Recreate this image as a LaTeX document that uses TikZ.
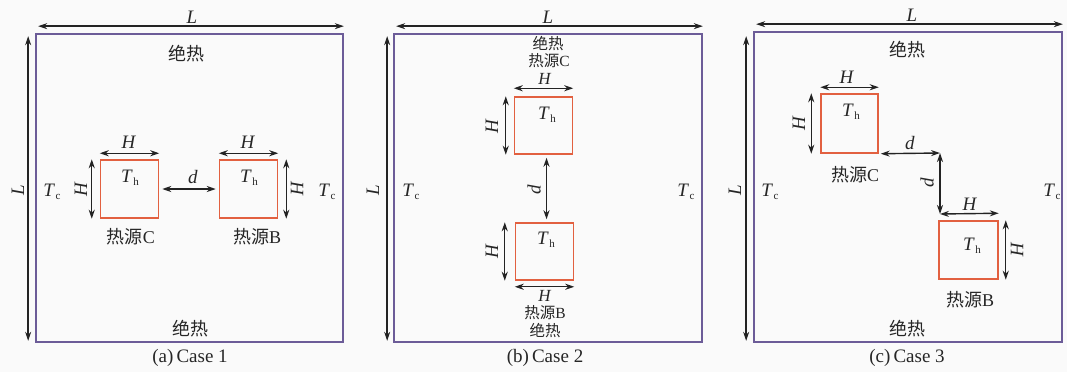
\documentclass[tikz,border=0pt]{standalone}
\usepackage{fontspec}
\setmainfont{Liberation Serif}
\newfontfamily\cjk{Noto Sans CJK SC}
\usetikzlibrary{arrows.meta}
\definecolor{boxc}{RGB}{108,92,152}
\definecolor{sqc}{RGB}{226,96,64}
\definecolor{arrc}{RGB}{35,35,35}
\definecolor{bgc}{RGB}{250,250,250}
\tikzset{
  outerbox/.style={draw=boxc,line width=1.7pt,inner sep=0pt},
  hotsq/.style={draw=sqc,line width=1.5pt,inner sep=0pt,minimum width=58pt,minimum height=58pt},
  dimarrow/.style={{Stealth[length=9pt,width=6pt]}-{Stealth[length=9pt,width=6pt]},line width=1.4pt,draw=arrc},
  lbl/.style={inner sep=0pt,font=\fontsize{19}{19}\selectfont,text=black!85},
  lbls/.style={inner sep=0pt,font=\fontsize{17}{17}\selectfont,text=black!85},
  zh/.style={inner sep=0pt,font=\cjk\fontsize{18}{18}\selectfont,text=black!85},
  zhs/.style={inner sep=0pt,font=\cjk\fontsize{15.5}{15.5}\selectfont,text=black!85},
  captxt/.style={inner sep=0pt,font=\fontsize{19}{19}\selectfont,text=black!85}
}
\newcommand{\Th}{\textit{T}\kern0.5pt\raisebox{-3.5pt}{\fontsize{11}{11}\selectfont h}}
\newcommand{\Tc}{\textit{T}\kern0.5pt\raisebox{-3.5pt}{\fontsize{11}{11}\selectfont c}}
\begin{document}
\begin{tikzpicture}[x=1pt,y=-1pt]
\useasboundingbox[fill=bgc] (0,0) rectangle (1067,372);
% ================= Panel (a)
\node[outerbox,minimum width=307pt,minimum height=308pt] (A) at (189.5,188) {};
\draw[dimarrow,shorten <=3pt] ([yshift=7pt]A.north west) -- ([yshift=7pt]A.north east);
\draw[dimarrow,shorten <=3pt,shorten >=2pt] ([xshift=-7pt]A.north west) -- ([xshift=-7pt]A.south west);
\node[lbl] (aL1) at (192,17) {\textit{L}};
\node[lbl,rotate=90] (aL2) at (18,190) {\textit{L}};
\node[zh] (aI1) at (186,54) {绝热};
\node[zh] (aI2) at (190,329) {绝热};
\node[hotsq] (aC) at (129.5,189) {};
\node[hotsq] (aB) at (248.5,189) {};
\draw[dimarrow] ([yshift=6pt]aC.north west) -- ([yshift=6pt]aC.north east);
\draw[dimarrow] ([xshift=-8pt]aC.north west) -- ([xshift=-8pt]aC.south west);
\draw[dimarrow] ([yshift=6pt]aB.north west) -- ([yshift=6pt]aB.north east);
\draw[dimarrow] ([xshift=8pt]aB.north east) -- ([xshift=8pt]aB.south east);
\draw[dimarrow,shorten <=3pt,shorten >=3pt] (aC.east) -- (aB.west);
\node[lbl] (aH1) at (129,142) {\textit{H}};
\node[lbl,rotate=90] (aH2) at (81,189) {\textit{H}};
\node[lbl] (aH3) at (248,142) {\textit{H}};
\node[lbl,rotate=-90] (aH4) at (297,189) {\textit{H}};
\node[lbl] (ad) at (193,177) {\textit{d}};
\node[lbl] (aT1) at (130,178) {\Th};
\node[lbl] (aT2) at (249,178) {\Th};
\node[lbl] (aT3) at (52,192) {\Tc};
\node[lbl] (aT4) at (327,192) {\Tc};
\node[zh] (aSC) at (131,237) {热源\textrm{C}};
\node[zh] (aSB) at (257,237) {热源\textrm{B}};
\node[captxt] (acap) at (190,358) {(a)\,Case 1};
% ================= Panel (b)
\node[outerbox,minimum width=308pt,minimum height=308pt] (B) at (548,188) {};
\draw[dimarrow,shorten <=3pt] ([yshift=7pt]B.north west) -- ([yshift=7pt]B.north east);
\draw[dimarrow,shorten <=3pt,shorten >=2pt] ([xshift=-6pt]B.north west) -- ([xshift=-6pt]B.south west);
\node[lbl] (bL1) at (548,17) {\textit{L}};
\node[lbl,rotate=90] (bL2) at (373,190) {\textit{L}};
\node[zhs] (bI1) at (548,44) {绝热};
\node[zhs] (bSC) at (549,61) {热源\textrm{C}};
\node[hotsq,minimum height=57pt] (bC) at (543.5,125.5) {};
\node[hotsq,minimum height=57pt] (bB) at (544.5,251.5) {};
\draw[dimarrow] ([yshift=8pt]bC.north west) -- ([yshift=8pt]bC.north east);
\draw[dimarrow] ([xshift=-8pt]bC.north west) -- ([xshift=-8pt]bC.south west);
\draw[dimarrow] ([xshift=-10pt]bB.north west) -- ([xshift=-10pt]bB.south west);
\draw[dimarrow] ([yshift=-6pt]bB.south west) -- ([yshift=-6pt]bB.south east);
\draw[dimarrow,shorten <=3pt,shorten >=3pt] ([xshift=3pt]bC.south) -- ([xshift=2pt]bB.north);
\node[lbls] (bH1) at (545,79) {\textit{H}};
\node[lbl,rotate=90] (bH2) at (492,126) {\textit{H}};
\node[lbl,rotate=90] (bH3) at (492,251) {\textit{H}};
\node[lbls] (bH4) at (545,296) {\textit{H}};
\node[lbl,rotate=90] (bd) at (534,190) {\textit{d}};
\node[lbl] (bT1) at (547,115) {\Th};
\node[lbl] (bT2) at (546,240) {\Th};
\node[lbl] (bT3) at (411,192) {\Tc};
\node[lbl] (bT4) at (686,192) {\Tc};
\node[zhs] (bSB) at (545,313) {热源\textrm{B}};
\node[zhs] (bI2) at (545,331) {绝热};
\node[captxt] (bcap) at (545,358) {(b)\,Case 2};
% ================= Panel (c)
\node[outerbox,minimum width=308pt,minimum height=310pt] (C) at (908,187) {};
\draw[dimarrow,shorten <=3pt] ([yshift=7pt]C.north west) -- ([yshift=7pt]C.north east);
\draw[dimarrow,shorten <=5pt,shorten >=2pt] ([xshift=-7pt]C.north west) -- ([xshift=-7pt]C.south west);
\node[lbl] (cL1) at (912,15) {\textit{L}};
\node[lbl,rotate=90] (cL2) at (735,190) {\textit{L}};
\node[zh] (cI1) at (907,50) {绝热};
\node[zh] (cI2) at (907,329) {绝热};
\node[hotsq,minimum width=57pt,minimum height=59pt] (cC) at (849.5,123.5) {};
\node[hotsq,minimum width=59pt] (cB) at (968.5,250) {};
\coordinate (k1) at (940,153);
\coordinate (k2) at (940,214);
\draw[dimarrow] ([yshift=6pt]cC.north west) -- ([yshift=6pt]cC.north east);
\draw[dimarrow] ([xshift=-9pt]cC.north west) -- ([xshift=-9pt]cC.south west);
\draw[dimarrow,shorten <=2pt] (cC.south east) -- (k1);
\draw[dimarrow] (k1) -- (k2);
\draw[dimarrow] (k2) -- ([yshift=7pt]cB.north east);
\draw[dimarrow] ([xshift=7pt]cB.north east) -- ([xshift=7pt]cB.south east);
\node[lbl] (cH1) at (847,77) {\textit{H}};
\node[lbl,rotate=90] (cH2) at (799,123) {\textit{H}};
\node[lbl] (cd1) at (910,143) {\textit{d}};
\node[lbl,rotate=90] (cd2) at (927,183) {\textit{d}};
\node[lbl] (cH3) at (970,204) {\textit{H}};
\node[lbl,rotate=-90] (cH4) at (1017,250) {\textit{H}};
\node[lbl] (cT1) at (851,112) {\Th};
\node[lbl] (cT2) at (972,246) {\Th};
\node[lbl] (cT3) at (770,192) {\Tc};
\node[lbl] (cT4) at (1052,192) {\Tc};
\node[zh] (cSC) at (855,175) {热源\textrm{C}};
\node[zh] (cSB) at (970,300) {热源\textrm{B}};
\node[captxt] (ccap) at (907,358) {(c)\,Case 3};
\end{tikzpicture}
\end{document}
